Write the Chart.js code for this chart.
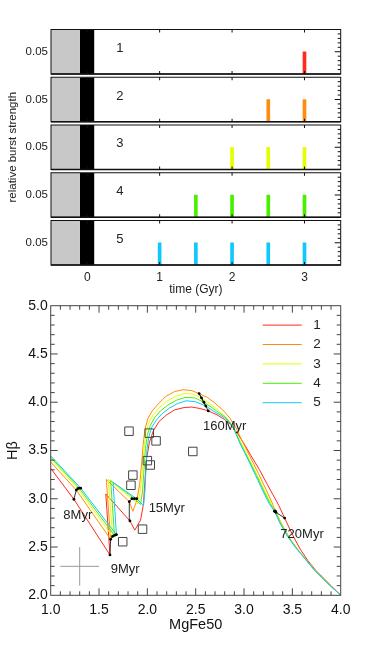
<!DOCTYPE html>
<html>
<head>
<meta charset="utf-8">
<script src="https://cdn.jsdelivr.net/npm/chart.js@4.4.1/dist/chart.umd.min.js"></script>
<style>
  html, body { margin: 0; padding: 0; background: #fff; }
  #wrap { position: relative; width: 374px; height: 647px; }
  #wrap canvas { position: absolute; left: 0; }
</style>
</head>
<body>
<div id="wrap">
  <canvas id="p1" width="374" height="300" style="top:0"></canvas>
  <canvas id="p2" width="374" height="300" style="top:0"></canvas>
  <canvas id="p3" width="374" height="300" style="top:0"></canvas>
  <canvas id="p4" width="374" height="300" style="top:0"></canvas>
  <canvas id="p5" width="374" height="300" style="top:0"></canvas>
  <canvas id="main" width="374" height="357" style="top:290px"></canvas>
</div>
<script>
// ---- burst histories (Gyr) ----
const bursts1 = [3];
const bursts2 = [2.5, 3];
const bursts3 = [2, 2.5, 3];
const bursts4 = [1.5, 2, 2.5, 3];
const bursts5 = [1, 1.5, 2, 2.5, 3];
const burstStrength = 0.05;
const panelMax = 0.1;
const timeTicks = [0, 1, 2, 3];
const oldPopSpan = [-0.5, -0.1];
const mainBurstSpan = [-0.1, 0.1];

const modelNames = ['1', '2', '3', '4', '5'];
const modelColors = ['#ff2a1a', '#ff8c10', '#e4ff00', '#48f000', '#10c8ff'];

// ---- model tracks: MgFe50 / Hbeta ----
const mgfe1 = [1.00, 1.24, 1.613, 1.57, 1.82, 1.87, 1.93, 1.96, 1.975, 1.99, 2.02, 2.06, 2.12, 2.20, 2.28, 2.38, 2.46, 2.545, 2.63, 2.72, 2.80, 2.86, 2.93, 3.00, 3.07, 3.16, 3.24, 3.30, 3.36, 3.42, 3.50, 3.58, 3.66, 3.74, 3.80, 3.90, 4.00];
const hb1   = [3.315, 2.995, 2.418, 3.05, 2.77, 2.675, 2.78, 2.95, 3.19, 3.40, 3.58, 3.70, 3.80, 3.87, 3.92, 3.945, 3.95, 3.935, 3.91, 3.87, 3.82, 3.77, 3.68, 3.57, 3.45, 3.30, 3.15, 3.04, 2.93, 2.80, 2.63, 2.48, 2.36, 2.26, 2.20, 2.10, 2.00];

const mgfe2 = [1.00, 1.265, 1.62, 1.575, 1.813, 1.85, 1.89, 1.92, 1.94, 1.955, 1.975, 2.005, 2.05, 2.11, 2.19, 2.28, 2.37, 2.46, 2.535, 2.62, 2.70, 2.78, 2.85, 2.91, 2.98, 3.06, 3.15, 3.23, 3.29, 3.33, 3.40, 3.48, 3.56, 3.65, 3.75, 3.87, 4.00];
const hb2   = [3.38, 3.09, 2.58, 3.20, 2.97, 2.87, 2.98, 3.15, 3.35, 3.55, 3.72, 3.83, 3.91, 3.98, 4.06, 4.11, 4.13, 4.12, 4.09, 4.05, 3.99, 3.92, 3.84, 3.75, 3.60, 3.44, 3.26, 3.09, 2.96, 2.86, 2.72, 2.58, 2.47, 2.36, 2.24, 2.12, 2.00];

const mgfe3 = [1.00, 1.28, 1.64, 1.595, 1.84, 1.90, 1.925, 1.95, 1.965, 1.985, 2.015, 2.06, 2.12, 2.20, 2.29, 2.38, 2.47, 2.56, 2.64, 2.72, 2.79, 2.85, 2.90, 2.97, 3.05, 3.14, 3.22, 3.28, 3.325, 3.39, 3.47, 3.55, 3.64, 3.74, 3.86, 4.00];
const hb3   = [3.415, 3.105, 2.61, 3.20, 3.00, 2.95, 3.08, 3.30, 3.52, 3.69, 3.79, 3.87, 3.94, 4.01, 4.06, 4.09, 4.085, 4.045, 3.99, 3.93, 3.87, 3.80, 3.72, 3.58, 3.42, 3.24, 3.07, 2.95, 2.87, 2.73, 2.59, 2.48, 2.37, 2.25, 2.13, 2.00];

const mgfe4 = [1.00, 1.295, 1.66, 1.62, 1.865, 1.93, 1.95, 1.965, 1.98, 2.00, 2.03, 2.075, 2.135, 2.21, 2.30, 2.39, 2.49, 2.585, 2.66, 2.73, 2.80, 2.855, 2.90, 2.96, 3.04, 3.13, 3.21, 3.27, 3.32, 3.38, 3.46, 3.54, 3.63, 3.73, 3.86, 4.00];
const hb4   = [3.43, 3.11, 2.62, 3.19, 3.00, 2.94, 3.08, 3.30, 3.52, 3.66, 3.76, 3.84, 3.91, 3.97, 4.02, 4.05, 4.045, 4.00, 3.95, 3.90, 3.85, 3.79, 3.715, 3.58, 3.42, 3.24, 3.07, 2.95, 2.875, 2.74, 2.60, 2.49, 2.38, 2.26, 2.13, 2.00];

const mgfe5 = [1.00, 1.31, 1.68, 1.645, 1.89, 1.96, 1.975, 1.985, 1.995, 2.015, 2.045, 2.09, 2.15, 2.23, 2.31, 2.40, 2.50, 2.605, 2.68, 2.75, 2.81, 2.86, 2.90, 2.96, 3.04, 3.12, 3.20, 3.26, 3.315, 3.37, 3.45, 3.53, 3.62, 3.72, 3.85, 4.00];
const hb5   = [3.445, 3.11, 2.628, 3.17, 3.00, 2.93, 3.08, 3.30, 3.50, 3.64, 3.74, 3.81, 3.88, 3.94, 3.985, 4.015, 4.005, 3.96, 3.91, 3.87, 3.83, 3.78, 3.71, 3.57, 3.41, 3.24, 3.07, 2.95, 2.87, 2.75, 2.61, 2.50, 2.39, 2.27, 2.14, 2.00];

// age marks along the tracks (models 1..5)
const ageNames = ['8Myr', '9Myr', '15Myr', '160Myr', '720Myr'];
const age8x = [1.24, 1.265, 1.28, 1.295, 1.31],     age8y = [2.995, 3.09, 3.105, 3.11, 3.11];
const age9x = [1.613, 1.62, 1.64, 1.66, 1.68],     age9y = [2.418, 2.58, 2.61, 2.62, 2.628];
const age15x = [1.82, 1.813, 1.84, 1.865, 1.89],   age15y = [2.77, 2.97, 3.00, 3.00, 3.00];
const age160x = [2.63, 2.535, 2.56, 2.585, 2.605], age160y = [3.91, 4.09, 4.045, 4.00, 3.96];
const age720x = [3.42, 3.33, 3.325, 3.32, 3.315],  age720y = [2.80, 2.86, 2.87, 2.875, 2.87];

// observed galaxies
const obsX = [1.81, 2.02, 2.09, 2.47, 2.00, 2.03, 1.85, 1.83, 1.95, 1.745];
const obsY = [3.70, 3.68, 3.60, 3.49, 3.395, 3.35, 3.245, 3.14, 2.685, 2.555];
// typical error
const errCenter = [1.3, 2.3];
const errHalf = [0.2, 0.2];

Chart.defaults.font.family = '"Liberation Sans", Arial, Helvetica, sans-serif';
Chart.defaults.color = '#222';
Chart.defaults.animation = false;
Chart.defaults.plugins.legend.display = false;
Chart.defaults.plugins.tooltip.enabled = false;

const pts = (xs, ys) => xs.map((x, i) => ({x: x, y: ys[i]}));

// box + inward ticks on the chart area
const frameTicks = {
  id: 'frameTicks',
  afterDatasetsDraw(chart, args, o) {
    const {ctx, chartArea: a} = chart;
    ctx.save();
    ctx.strokeStyle = o.color;
    ctx.lineWidth = 1;
    ctx.strokeRect(a.left, a.top, a.right - a.left, a.bottom - a.top);
    if (o.bottomWidth) {
      ctx.lineWidth = o.bottomWidth;
      ctx.beginPath();
      ctx.moveTo(a.left, a.bottom);
      ctx.lineTo(a.right, a.bottom);
      ctx.stroke();
      ctx.lineWidth = 1;
    }
    [['x', true], ['y', false]].forEach(([id, horiz]) => {
      const t = o[id], s = chart.scales[id];
      if (!t) return;
      const n = Math.round((s.max - s.min) / t.step);
      for (let k = 1; k < n; k++) {
        const v = s.min + k * t.step;
        const r = v / t.major;
        const L = Math.abs(r - Math.round(r)) < 1e-6 ? t.majorLen : t.len;
        if (!L) continue;
        const p = s.getPixelForValue(v);
        ctx.beginPath();
        if (horiz) {
          if (t.sides.includes('bottom')) { ctx.moveTo(p, a.bottom); ctx.lineTo(p, a.bottom - L); }
          if (t.sides.includes('top')) { ctx.moveTo(p, a.top); ctx.lineTo(p, a.top + L); }
        } else {
          if (t.sides.includes('left')) { ctx.moveTo(a.left, p); ctx.lineTo(a.left + L, p); }
          if (t.sides.includes('right')) { ctx.moveTo(a.right, p); ctx.lineTo(a.right - L, p); }
        }
        ctx.stroke();
      }
    });
    ctx.restore();
  }
};

// text placed at data coordinates
const dataText = {
  id: 'dataText',
  afterDatasetsDraw(chart, args, o) {
    const {ctx} = chart;
    ctx.save();
    ctx.fillStyle = o.color;
    ctx.font = o.size + 'px "Liberation Sans", Arial, sans-serif';
    ctx.textAlign = 'center';
    ctx.textBaseline = 'middle';
    o.items.forEach(it => {
      ctx.fillText(it.text, chart.scales.x.getPixelForValue(it.x), chart.scales.y.getPixelForValue(it.y));
    });
    ctx.restore();
  }
};

const PANEL_TOP = 29.5, PANEL_H = 44.5, PANEL_STEP = 47.75, TOP_H = 300;
const allBursts = [bursts1, bursts2, bursts3, bursts4, bursts5];

allBursts.forEach((times, idx) => {
  const top = PANEL_TOP + idx * PANEL_STEP, bottom = top + PANEL_H;
  const last = idx === 4;
  new Chart(document.getElementById('p' + (idx + 1)), {
    type: 'bar',
    data: {
      datasets: [
        { type: 'line', data: oldPopSpan.map(x => ({x: x, y: panelMax})), fill: 'origin',
          backgroundColor: '#c8c8c8', borderWidth: 0, pointRadius: 0 },
        { type: 'line', data: mainBurstSpan.map(x => ({x: x, y: panelMax})), fill: 'origin',
          backgroundColor: '#000', borderWidth: 0, pointRadius: 0 },
        { type: 'bar', data: times.map(t => ({x: t, y: burstStrength})),
          backgroundColor: modelColors[idx], barThickness: 3, grouped: false }
      ]
    },
    options: {
      responsive: false,
      layout: { padding: { top: top, left: 0, right: 33.3, bottom: last ? 0 : TOP_H - bottom } },
      scales: {
        x: {
          type: 'linear', min: -0.5, max: 3.5, offset: false, display: last,
          grid: { display: false, drawTicks: false }, border: { display: false },
          afterBuildTicks: s => { s.ticks = timeTicks.map(v => ({value: v})); },
          afterFit: s => { if (last) s.height = TOP_H - bottom; },
          ticks: { padding: 5, font: { size: 12 }, color: '#222' },
          title: { display: true, text: 'time (Gyr)', font: { size: 12 }, color: '#222', padding: { top: 0, bottom: 3 } }
        },
        y: {
          min: 0, max: panelMax,
          grid: { display: false, drawTicks: false }, border: { display: false },
          afterBuildTicks: s => { s.ticks = [{value: burstStrength}]; },
          afterFit: s => { s.width = 51; },
          ticks: { padding: 3, font: { size: 11.5 }, color: '#222', callback: v => v.toFixed(2) },
          title: { display: idx === 2, text: 'relative burst strength', font: { size: 11.5 }, color: '#222',
                   padding: { top: 5.5, bottom: 0 } }
        }
      },
      plugins: {
        frameTicks: {
          color: '#111', bottomWidth: 1.6,
          x: { step: 0.5, major: 1, len: 0, majorLen: 3, sides: ['top', 'bottom'] },
          y: { step: 0.01, major: 0.05, len: 3, majorLen: 6, sides: ['right'] }
        },
        dataText: { color: '#222', size: 13, items: [{ text: modelNames[idx], x: 0.45, y: 0.058 }] }
      }
    },
    plugins: [frameTicks, dataText]
  });
});

// ---- main diagram ----
const tracks = [[mgfe1, hb1], [mgfe2, hb2], [mgfe3, hb3], [mgfe4, hb4], [mgfe5, hb5]];
const datasets = [];
tracks.forEach(([xs, ys], i) => {
  datasets.push({ label: modelNames[i], data: pts(xs, ys), showLine: true, borderColor: modelColors[i],
    borderWidth: 1, pointRadius: 0, tension: 0, order: 10 - i, isModel: true });
});
[[age8x, age8y], [age9x, age9y], [age15x, age15y], [age160x, age160y], [age720x, age720y]].forEach(([xs, ys]) => {
  datasets.push({ data: pts(xs, ys), showLine: true, borderColor: '#000', borderWidth: 0.8,
    pointRadius: 1.4, pointBackgroundColor: '#000', pointBorderWidth: 0, order: 1 });
});
datasets.push({ data: pts(obsX, obsY), pointStyle: 'rect', pointRadius: 6, pointBorderColor: '#444',
  pointBackgroundColor: 'rgba(0,0,0,0)', pointBorderWidth: 1, order: 0 });
datasets.push({ data: [{x: errCenter[0] - errHalf[0], y: errCenter[1]}, {x: errCenter[0] + errHalf[0], y: errCenter[1]}],
  showLine: true, borderColor: '#999', borderWidth: 1, pointRadius: 0, order: 0 });
datasets.push({ data: [{x: errCenter[0], y: errCenter[1] - errHalf[1]}, {x: errCenter[0], y: errCenter[1] + errHalf[1]}],
  showLine: true, borderColor: '#999', borderWidth: 1, pointRadius: 0, order: 0 });

const lineLegend = {
  id: 'lineLegend',
  afterDatasetsDraw(chart, args, o) {
    const {ctx, chartArea: a} = chart;
    ctx.save();
    ctx.font = '13.5px "Liberation Sans", Arial, sans-serif';
    ctx.textBaseline = 'middle';
    ctx.textAlign = 'left';
    chart.data.datasets.filter(d => d.isModel).forEach((d, i) => {
      const y = a.top + o.first + i * o.gap;
      ctx.strokeStyle = d.borderColor;
      ctx.lineWidth = 1;
      ctx.beginPath();
      ctx.moveTo(a.right - 78, y);
      ctx.lineTo(a.right - 39, y);
      ctx.stroke();
      ctx.fillStyle = '#222';
      ctx.fillText(d.label, a.right - 27.5, y);
    });
    ctx.restore();
  }
};

new Chart(document.getElementById('main'), {
  type: 'scatter',
  data: { datasets: datasets },
  options: {
    responsive: false,
    layout: { padding: { top: 15.7, left: 0, right: 33.3, bottom: 0 } },
    scales: {
      x: {
        min: 1, max: 4,
        grid: { display: false, drawTicks: false }, border: { display: false },
        afterFit: s => { s.height = 51.7; },
        ticks: { stepSize: 0.5, padding: 6, font: { size: 14 }, color: '#111', callback: v => v.toFixed(1) },
        title: { display: true, text: 'MgFe50', font: { size: 14.5 }, color: '#111', padding: { top: 0, bottom: 13.5 } }
      },
      y: {
        min: 2, max: 5,
        grid: { display: false, drawTicks: false }, border: { display: false },
        afterFit: s => { s.width = 50.7; },
        ticks: { stepSize: 0.5, padding: 3, font: { size: 14 }, color: '#111', callback: v => v.toFixed(1) },
        title: { display: true, text: 'Hβ', font: { size: 14.5 }, color: '#111', padding: { top: 4.4, bottom: 0 } }
      }
    },
    plugins: {
      frameTicks: {
        color: '#444',
        x: { step: 0.1, major: 0.5, len: 4, majorLen: 7, sides: ['top', 'bottom'] },
        y: { step: 0.1, major: 0.5, len: 4, majorLen: 7, sides: ['left', 'right'] }
      },
      dataText: {
        color: '#222', size: 13,
        items: [
          { text: ageNames[0], x: 1.28, y: 2.83 },
          { text: ageNames[1], x: 1.77, y: 2.27 },
          { text: ageNames[2], x: 2.20, y: 2.90 },
          { text: ageNames[3], x: 2.80, y: 3.745 },
          { text: ageNames[4], x: 3.60, y: 2.635 }
        ]
      },
      lineLegend: { first: 19.4, gap: 19.4 }
    }
  },
  plugins: [frameTicks, dataText, lineLegend]
});
</script>
</body>
</html>
